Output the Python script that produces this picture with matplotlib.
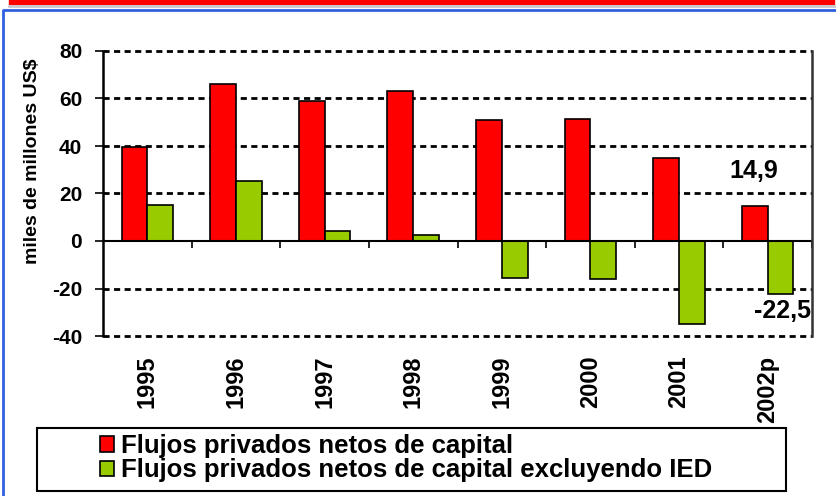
import numpy as np
import matplotlib
matplotlib.use("Agg")
import matplotlib.pyplot as plt
from matplotlib.patches import Rectangle
from matplotlib.lines import Line2D

# data
years = ['1995', '1996', '1997', '1998', '1999', '2000', '2001', '2002p']
flujos_totales = [39.6, 65.9, 59.1, 63.3, 50.8, 51.5, 34.8, 14.9]
flujos_sin_ied = [15.2, 25.3, 4.0, 2.4, -15.5, -16.2, -34.8, -22.5]
etiquetas = ['14,9', '-22,5']
serie_names = ['Flujos privados netos de capital',
               'Flujos privados netos de capital excluyendo IED']
y_ticks = [-40, -20, 0, 20, 40, 60, 80]

RED = '#FF0000'
GREEN = '#99CC00'

plt.rcParams['font.family'] = ['Liberation Sans', 'DejaVu Sans']

W, H = 836, 496
fig = plt.figure(figsize=(W / 100, H / 100), dpi=100)
fig.patch.set_facecolor('white')

def fx(px):
    return px / W

def fy(py):
    return 1 - py / H

# decorations at the top/left of the slide
fig.add_artist(Rectangle((fx(9), fy(4)), fx(825), fy(-10) - fy(4), transform=fig.transFigure,
                         facecolor=RED, edgecolor=RED, lw=1))
fig.add_artist(Line2D([fx(9), fx(834)], [fy(6), fy(6)], transform=fig.transFigure,
                      color='#c8c8d0', lw=2))
fig.add_artist(Line2D([fx(2.5), fx(2.5), fx(836)], [fy(496), fy(9.5), fy(9.5)],
                      transform=fig.transFigure, color='#3060e0', lw=2))

ax = fig.add_axes([fx(103), fy(336), fx(812 - 103), fy(51) - fy(336)])
x = np.arange(len(years))
bw = 0.29
ax.bar(x - bw / 2, flujos_totales, bw, color=RED, edgecolor='black', lw=1.2,
       label=serie_names[0], zorder=3)
ax.bar(x + bw / 2, flujos_sin_ied, bw, color=GREEN, edgecolor='black', lw=1.2,
       label=serie_names[1], zorder=3)

ax.set_xlim(-0.5, len(years) - 0.5)
ax.set_ylim(-40, 80)
ax.set_yticks(y_ticks)
ax.set_yticklabels([str(v) for v in y_ticks], fontsize=15, fontweight='bold')
ax.set_xticks(x)
ax.set_xticklabels(years, rotation=90, fontsize=17, fontweight='bold')
ax.tick_params(axis='x', length=0, pad=14)
ax.tick_params(axis='y', length=6, width=1.2, direction='out', pad=9)

for v in y_ticks:
    if v != 0:
        ax.axhline(v, color='black', lw=2, ls=(0, (2.2, 1.6)), zorder=1, clip_on=False)
ax.axhline(0, color='black', lw=1.5, zorder=4)
# small category ticks on the zero line
ax.vlines(np.arange(len(years) + 1) - 0.5, 0, -2.8, color='black', lw=1.2, zorder=4)

# plot area side borders
for s in ax.spines.values():
    s.set_visible(False)
ax.axvline(-0.5, color='black', lw=1.8, zorder=6, clip_on=False)
ax.axvline(len(years) - 0.5, color='#333333', lw=1.8, zorder=6, clip_on=False)

fig.text(fx(33), fy(161), 'miles de millones US$', rotation=90, ha='center', va='center',
         fontsize=14, fontweight='bold')

ax.text(x[-1] - 0.16, 29.3, etiquetas[0], ha='center', va='center', fontsize=18,
        fontweight='bold')
ax.text(x[-1] + 0.17, -29.6, etiquetas[1], ha='center', va='center', fontsize=18,
        fontweight='bold')

# legend box under the chart
fig.add_artist(Rectangle((fx(37), fy(491)), fx(749), fy(428) - fy(491), transform=fig.transFigure,
                         facecolor='white', edgecolor='black', lw=1.5))
leg = fig.legend(loc='upper left', bbox_to_anchor=(fx(82), fy(416)), frameon=False,
                 prop={'weight': 'bold', 'size': 18.5},
                 handlelength=0.55, handleheight=0.55, handletextpad=0.25, labelspacing=0.02,
                 borderpad=0.2)

fig.savefig('out.png', dpi=100)
